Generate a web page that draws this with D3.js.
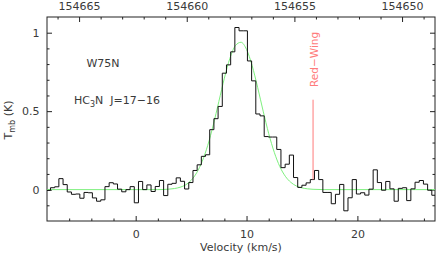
<!DOCTYPE html>
<html><head><meta charset="utf-8">
<script src="https://cdn.jsdelivr.net/npm/d3@7"></script>
<style>
body{margin:0;background:#fff}
svg{display:block}
text{font-family:"DejaVu Sans",sans-serif;}
</style>
</head><body>
<svg id="c" width="436" height="254"></svg>
<script>
// ---- data ----
const velocity = [-7.875,-7.497,-7.119,-6.741,-6.363,-5.985,-5.607,-5.229,-4.851,-4.473,-4.095,-3.717,-3.339,-2.961,-2.583,-2.205,-1.827,-1.449,-1.071,-0.693,-0.315,0.063,0.441,0.819,1.197,1.575,1.953,2.331,2.709,3.087,3.465,3.843,4.221,4.599,4.977,5.355,5.733,6.111,6.489,6.867,7.245,7.623,8.001,8.379,8.757,9.135,9.513,9.891,10.269,10.647,11.025,11.403,11.781,12.159,12.537,12.915,13.293,13.671,14.049,14.427,14.805,15.183,15.561,15.939,16.317,16.695,17.073,17.451,17.829,18.207,18.585,18.963,19.341,19.719,20.097,20.475,20.853,21.231,21.609,21.987,22.365,22.743,23.121,23.499,23.877,24.255,24.633,25.011,25.389,25.767,26.145,26.523,26.901];
const tmb = [-0.005,0.012,0.018,0.07,0.032,-0.015,-0.03,-0.028,-0.055,-0.018,-0.02,-0.053,-0.074,-0.065,0.019,0.044,0.036,0.003,-0.014,0.0,0.019,-0.084,0.052,0.0,0.03,-0.012,0.02,0.058,-0.038,0.034,0.04,0.075,0.053,0.004,0.045,0.122,0.158,0.212,0.222,0.382,0.452,0.53,0.742,0.795,0.878,1.033,1.012,1.012,0.82,0.693,0.482,0.47,0.338,0.335,0.335,0.256,0.14,0.162,0.22,0.077,0.014,0.028,0.043,0.064,0.122,0.064,-0.018,-0.018,-0.09,-0.03,0.033,-0.135,-0.052,0.064,-0.028,-0.02,-0.035,0.003,0.126,0.045,-0.004,0.052,0.005,-0.074,0.008,0.012,-0.07,0.005,0.047,0.058,0.035,-0.004,-0.036];

const fitVelocity = [-8,2,3,3.5,4,4.5,5,5.5,6,6.5,7,7.5,8,8.5,9,9.5,10,10.5,11,11.5,12,12.5,13,13.5,14,14.5,15,15.5,16,17,27];
const fitTmb = [0,0,0.003,0.007,0.015,0.03,0.059,0.107,0.18,0.282,0.412,0.561,0.71,0.837,0.918,0.939,0.893,0.791,0.652,0.5,0.357,0.238,0.147,0.085,0.046,0.023,0.011,0.005,0.002,0,0];

const velRange = [-8, 27];
const tmbRange = [-0.2, 1.1];
const freqRange = [154666.49, 154648.47];

const velTicks = [0, 10, 20];
const velMinorTicks = [-6,-4,-2,2,4,6,8,12,14,16,18,22,24,26];
const freqTicks = [154665, 154660, 154655, 154650];
const freqMinorTicks = [154649,154651,154652,154653,154654,154656,154657,154658,154659,154661,154662,154663,154664,154666];
const tmbTicks = [0, 0.5, 1];
const tmbMinorTicks = [-0.1,0.1,0.2,0.3,0.4,0.6,0.7,0.8,0.9];

const redWingVelocity = 16.0;
const redWingTmb = [0.064, 0.573];

// ---- layout ----
const L = 47, R = 435, T = 17, B = 221;
const svg = d3.select("#c");
const x = d3.scaleLinear().domain(velRange).range([L, R]);
const xf = d3.scaleLinear().domain(freqRange).range([L, R]);
const y = d3.scaleLinear().domain(tmbRange).range([B, T]);
const ink = "#222";
const txt = "#3a3a3a";
const FS = 11;

svg.append("defs").append("clipPath").attr("id","clip")
  .append("rect").attr("x",L).attr("y",T).attr("width",R-L).attr("height",B-T);

function styleAxis(g){
  g.select(".domain").remove();
  g.attr("font-size", FS).attr("font-family", '"DejaVu Sans", sans-serif').attr("color", ink);
  g.selectAll("text").attr("fill", txt);
}

// bottom
svg.append("g").attr("transform",`translate(0,${B})`)
  .call(d3.axisBottom(x).tickValues(velTicks).tickSize(-5).tickPadding(9).tickFormat(d3.format("d"))).call(styleAxis);
svg.append("g").attr("transform",`translate(0,${B})`)
  .call(d3.axisBottom(x).tickValues(velMinorTicks).tickSize(-2.5).tickFormat("")).call(styleAxis);
// top
svg.append("g").attr("transform",`translate(0,${T})`)
  .call(d3.axisTop(xf).tickValues(freqTicks).tickSize(-5).tickPadding(7.5).tickFormat(d3.format("d"))).call(styleAxis);
svg.append("g").attr("transform",`translate(0,${T})`)
  .call(d3.axisTop(xf).tickValues(freqMinorTicks).tickSize(-2.5).tickFormat("")).call(styleAxis);
// left
svg.append("g").attr("transform",`translate(${L},0)`)
  .call(d3.axisLeft(y).tickValues(tmbTicks).tickSize(-5).tickPadding(7.5).tickFormat(d=>String(d))).call(styleAxis);
svg.append("g").attr("transform",`translate(${L},0)`)
  .call(d3.axisLeft(y).tickValues(tmbMinorTicks).tickSize(-2.5).tickFormat("")).call(styleAxis);
// right
svg.append("g").attr("transform",`translate(${R},0)`)
  .call(d3.axisRight(y).tickValues(tmbTicks).tickSize(-5).tickFormat("")).call(styleAxis);
svg.append("g").attr("transform",`translate(${R},0)`)
  .call(d3.axisRight(y).tickValues(tmbMinorTicks).tickSize(-2.5).tickFormat("")).call(styleAxis);

// frame
svg.append("rect").attr("x",L).attr("y",T).attr("width",R-L).attr("height",B-T)
  .attr("fill","none").attr("stroke",ink).attr("stroke-width",1);

// green fit
const plot = svg.append("g").attr("clip-path","url(#clip)");
plot.append("path")
  .datum(fitVelocity.map((v,i)=>[v, fitTmb[i]]))
  .attr("fill","none").attr("stroke","#7ef07e").attr("stroke-width",1)
  .attr("d", d3.line().x(d=>x(d[0])).y(d=>y(d[1])).curve(d3.curveMonotoneX));

// histogram spectrum
const steps = [];
velocity.forEach((v,i)=>{
  const left = i>0 ? (velocity[i-1]+v)/2 : v - (velocity[1]-velocity[0])/2;
  const right = i<velocity.length-1 ? (velocity[i+1]+v)/2 : v + (v-velocity[i-1])/2;
  steps.push([left, tmb[i]], [right, tmb[i]]);
});
plot.append("path").datum(steps)
  .attr("fill","none").attr("stroke","#111").attr("stroke-width",1)
  .attr("d", d3.line().x(d=>x(d[0])).y(d=>y(d[1])));

// red wing marker
const red = "#ff7b7b";
svg.append("line")
  .attr("x1", x(redWingVelocity)).attr("x2", x(redWingVelocity))
  .attr("y1", y(redWingTmb[0])).attr("y2", y(redWingTmb[1]))
  .attr("stroke", red).attr("stroke-width",1);
svg.append("text")
  .attr("transform",`translate(${x(redWingVelocity)+5},87) rotate(-90)`)
  .attr("font-size",10.5).attr("fill",red).attr("text-anchor","start")
  .text("Red\u2212Wing");

// annotations
svg.append("text").attr("x",103).attr("y",67).attr("text-anchor","middle")
  .attr("font-size",FS).attr("fill",txt).text("W75N");
const hc = svg.append("text").attr("x",74).attr("y",104).attr("font-size",FS).attr("fill",txt);
hc.append("tspan").text("HC");
hc.append("tspan").attr("font-size",8).attr("dy",3).text("3");
hc.append("tspan").attr("dy",-3).text("N\u00a0 J=17\u221216");

// axis titles
svg.append("text").attr("x",241).attr("y",251).attr("text-anchor","middle")
  .attr("font-size",FS).attr("fill",txt).text("Velocity (km/s)");
const yl = svg.append("text").attr("transform","translate(12,120) rotate(-90)")
  .attr("text-anchor","middle").attr("font-size",FS).attr("fill",txt);
yl.append("tspan").text("T");
yl.append("tspan").attr("font-size",8).attr("dy",3).text("mb");
yl.append("tspan").attr("dy",-3).text(" (K)");
</script>
</body></html>
